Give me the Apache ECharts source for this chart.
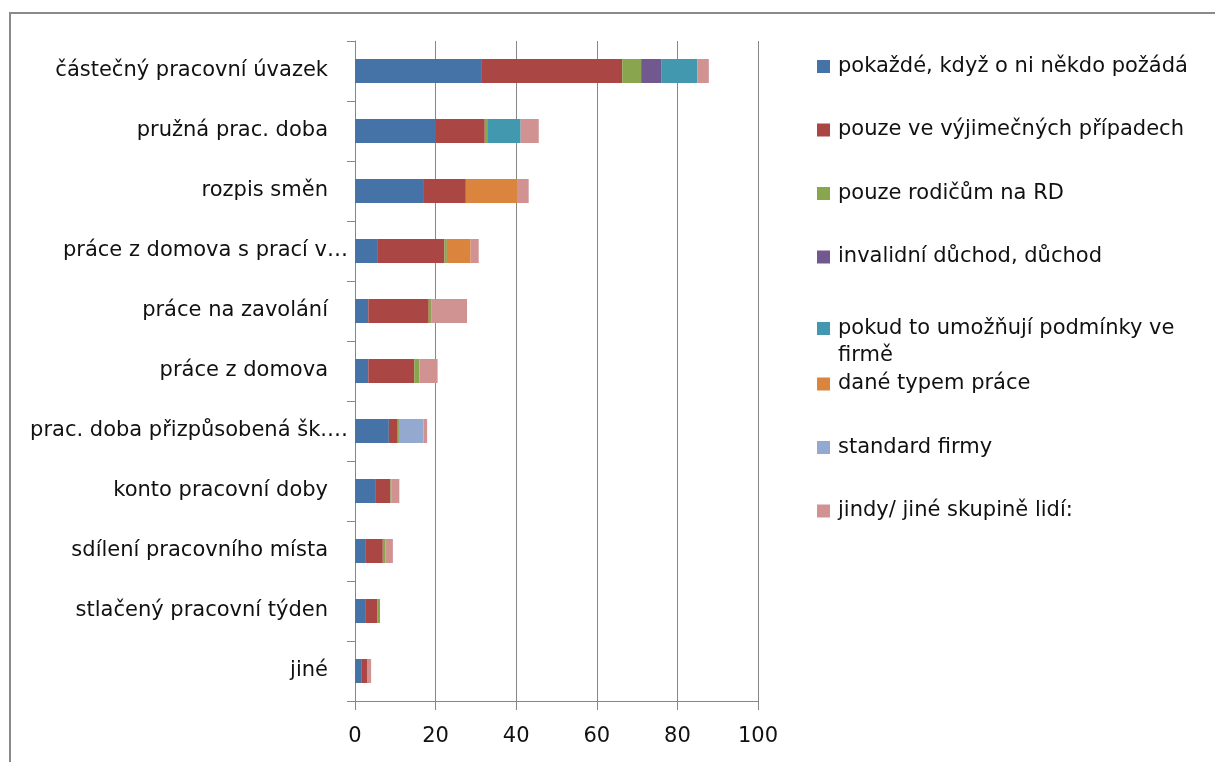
<!DOCTYPE html>
<html>
<head>
<meta charset="utf-8">
<script src="https://cdn.jsdelivr.net/npm/echarts@6/dist/echarts.min.js"></script>
<style>
  html, body { margin: 0; padding: 0; background: #fff; }
  #chart { width: 1215px; height: 762px; }
</style>
</head>
<body>
<div id="chart"></div>
<script>
const categories = [
  'částečný pracovní úvazek',
  'pružná prac. doba',
  'rozpis směn',
  'práce z domova s prací v…',
  'práce na zavolání',
  'práce z domova',
  'prac. doba přizpůsobená šk.…',
  'konto pracovní doby',
  'sdílení pracovního místa',
  'stlačený pracovní týden',
  'jiné'
]

const seriesNames = [
  'pokaždé, když o ni někdo požádá',
  'pouze ve výjimečných případech',
  'pouze rodičům na RD',
  'invalidní důchod, důchod',
  'pokud to umožňují podmínky ve firmě',
  'dané typem práce',
  'standard firmy',
  'jindy/ jiné skupině lidí:'
]

const pokazde = [31.3, 20.1, 16.9, 5.5, 3.3, 3.3, 8.4, 5.0, 2.7, 2.7, 1.7]
const vyjimecne = [35.0, 12.1, 10.6, 16.7, 15.0, 11.4, 2.2, 3.8, 4.2, 2.9, 1.3]
const rodicum = [4.7, 0.6, 0, 0.6, 0.6, 1.3, 0.3, 0.3, 0.6, 0.6, 0.2]
const duchod = [5.1, 0, 0, 0, 0, 0, 0, 0, 0, 0, 0]
const podminky = [8.9, 8.3, 0, 0, 0, 0, 0, 0, 0, 0, 0]
const typemPrace = [0, 0, 12.7, 5.9, 0, 0, 0, 0, 0, 0, 0]
const standard = [0, 0, 0, 0, 0, 0, 6.1, 0, 0, 0, 0]
const jindy = [2.8, 4.5, 2.9, 2.0, 8.9, 4.5, 0.9, 1.9, 1.9, 0, 0.8]

const xTicks = [0, 20, 40, 60, 80, 100]

const seriesData = [pokazde, vyjimecne, rodicum, duchod, podminky, typemPrace, standard, jindy]
const colors = ['#4572A7', '#AA4643', '#89A54E', '#71588F', '#4198AF', '#DB843D', '#93A9CF', '#D19392']

const FONT = '"DejaVu Sans", sans-serif'
const legendCenters = [66.5, 130, 193.5, 257, 328.5, 384, 447.5, 511]

const chart = echarts.init(document.getElementById('chart'), null, { renderer: 'canvas' })

// one legend per item so the wrapped entry keeps the same spacing as the rest
const legends = seriesNames.map((name, i) => {
  const wrapped = i === 4
  return {
    data: [name],
    left: 817,
    top: wrapped ? legendCenters[i] - 40.5 : legendCenters[i] - 12,
    padding: 0,
    icon: 'rect',
    itemWidth: 13,
    itemHeight: 13,
    selectedMode: false,
    // empty first line keeps the marker level with the first text line
    formatter: wrapped ? ' \npokud to umožňují podmínky ve\nfirmě' : '{name}',
    textStyle: {
      fontFamily: FONT,
      fontSize: 21,
      color: '#111',
      lineHeight: wrapped ? 27 : 24,
      padding: [0, 0, 0, 3]
    }
  }
})

chart.setOption({
  animation: false,
  color: colors,
  graphic: [{
    type: 'polyline',
    silent: true,
    shape: { points: [[10, 762], [10, 13], [1215, 13]] },
    style: { stroke: '#8a8a8a', lineWidth: 2, fill: null }
  }],
  legend: legends,
  grid: {
    left: 355,
    right: 457,
    top: 41,
    bottom: 61,
    containLabel: false
  },
  xAxis: {
    type: 'value',
    min: 0,
    max: 100,
    interval: 20,
    axisLine: { show: true, lineStyle: { color: '#868686', width: 1 } },
    axisTick: { show: true, length: 9, lineStyle: { color: '#868686' } },
    splitLine: { show: true, lineStyle: { color: '#868686', width: 1 } },
    axisLabel: {
      color: '#111',
      fontFamily: FONT,
      fontSize: 21,
      margin: 25,
      formatter: v => (xTicks.includes(v) ? String(v) : '')
    }
  },
  yAxis: {
    type: 'category',
    data: categories,
    inverse: true,
    axisLine: { show: true, lineStyle: { color: '#868686', width: 1 } },
    axisTick: { show: true, length: 8, lineStyle: { color: '#868686' } },
    splitLine: { show: false },
    axisLabel: {
      color: '#111',
      fontFamily: FONT,
      fontSize: 21,
      margin: 7,
      interval: 0,
      formatter: v => (v.endsWith('…') ? '{e|' + v + '}' : '{n|' + v + '}'),
      rich: {
        n: { fontFamily: FONT, fontSize: 21, color: '#111', padding: [0, 20, 0, 0] },
        e: { fontFamily: FONT, fontSize: 21, color: '#111' }
      }
    }
  },
  series: seriesNames.map((name, i) => ({
    name,
    type: 'bar',
    stack: 'total',
    barWidth: 24,
    data: seriesData[i],
    itemStyle: { color: colors[i] }
  }))
})
</script>
</body>
</html>
